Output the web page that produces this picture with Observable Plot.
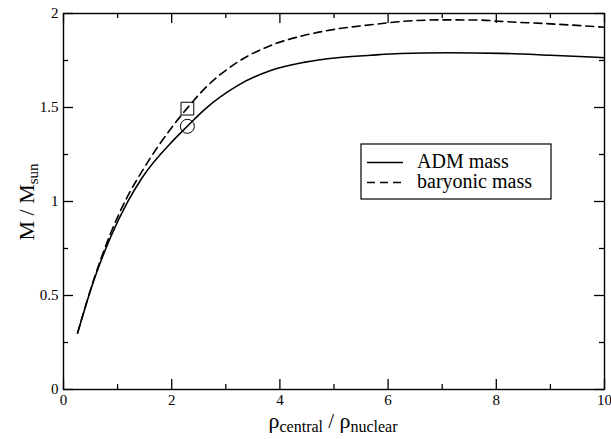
<!DOCTYPE html>
<html><head><meta charset="utf-8">
<script src="https://cdn.jsdelivr.net/npm/d3@7"></script>
<script src="https://cdn.jsdelivr.net/npm/@observablehq/plot@0.6"></script>
<style>body{margin:0;background:#fff} svg{display:block}</style>
</head><body><div id="chart"></div>
<script>
// ---- data ----
const densityADM = [0.26, 0.56, 0.87, 1.18, 1.45, 2.03, 2.29, 2.59, 3.21, 3.83, 4.44, 5.06, 5.68, 6.23, 7.1, 8.08, 9.0, 10.0];
const massADM    = [0.30, 0.58, 0.81, 0.995, 1.125, 1.325, 1.40, 1.485, 1.615, 1.697, 1.740, 1.765, 1.778, 1.787, 1.791, 1.788, 1.778, 1.765];
const densityBaryon = [0.26, 0.56, 0.87, 1.18, 1.45, 2.03, 2.28, 2.59, 3.21, 3.83, 4.44, 5.06, 5.68, 6.23, 7.0, 7.7, 8.08, 9.0, 10.0];
const massBaryon    = [0.30, 0.585, 0.83, 1.025, 1.16, 1.405, 1.494, 1.595, 1.74, 1.83, 1.883, 1.918, 1.94, 1.957, 1.966, 1.965, 1.958, 1.945, 1.927];
const markerDensity = [2.29];
const markerADM = [1.40];
const markerBaryon = [1.494];
const xTicksMajor = [0, 2, 4, 6, 8, 10];
const xTicksMinor = [1, 3, 5, 7, 9];
const yTicksMajor = [0, 0.5, 1, 1.5, 2];
const yTicksMinor = [0.25, 0.75, 1.25, 1.75];
const xDomain = [0, 10];
const yDomain = [0, 2];
const legendLabels = ["ADM mass", "baryonic mass"];

const adm = densityADM.map((x, i) => ({x, y: massADM[i]}));
const bar = densityBaryon.map((x, i) => ({x, y: massBaryon[i]}));
const mADM = markerDensity.map((x, i) => ({x, y: markerADM[i]}));
const mBar = markerDensity.map((x, i) => ({x, y: markerBaryon[i]}));

const font = "'Liberation Serif', 'Times New Roman', serif";
const K = "#000";
const tw = 1.3;
const W = 611, H = 439, mL = 63, mR = 7, mT = 13, mB = 50;
const innerW = W - mL - mR, innerH = H - mT - mB;
const major = 10, minor = 5;

const plot = Plot.plot({
  width: W, height: H,
  marginLeft: mL, marginRight: mR, marginTop: mT, marginBottom: mB,
  x: {domain: xDomain},
  y: {domain: yDomain},
  style: {fontFamily: font, fontSize: "15px", color: K, background: "#fff"},
  marks: [
    Plot.frame({stroke: K, strokeWidth: 1.4}),
    // inward ticks on all four sides
    Plot.ruleX(xTicksMajor, {x: d => d, insetTop: innerH - major, stroke: K, strokeWidth: tw}),
    Plot.ruleX(xTicksMinor, {x: d => d, insetTop: innerH - minor, stroke: K, strokeWidth: tw}),
    Plot.ruleX(xTicksMajor, {x: d => d, insetBottom: innerH - major, stroke: K, strokeWidth: tw}),
    Plot.ruleX(xTicksMinor, {x: d => d, insetBottom: innerH - minor, stroke: K, strokeWidth: tw}),
    Plot.ruleY(yTicksMajor, {y: d => d, insetRight: innerW - major, stroke: K, strokeWidth: tw}),
    Plot.ruleY(yTicksMinor, {y: d => d, insetRight: innerW - minor, stroke: K, strokeWidth: tw}),
    Plot.ruleY(yTicksMajor, {y: d => d, insetLeft: innerW - major, stroke: K, strokeWidth: tw}),
    Plot.ruleY(yTicksMinor, {y: d => d, insetLeft: innerW - minor, stroke: K, strokeWidth: tw}),
    Plot.axisX({ticks: xTicksMajor, tickSize: 0, tickPadding: 5, tickFormat: d => String(d), label: null, fontSize: 15}),
    Plot.axisY({ticks: yTicksMajor, tickSize: 0, tickPadding: 5, tickFormat: d => String(d), label: null, fontSize: 15}),
    Plot.line(adm, {x: "x", y: "y", curve: "monotone-x", stroke: K, strokeWidth: 1.6}),
    Plot.line(bar, {x: "x", y: "y", curve: "monotone-x", stroke: K, strokeWidth: 1.6, strokeDasharray: "8,5"}),
    Plot.dot(mADM, {x: "x", y: "y", r: 7, symbol: "circle", stroke: K, fill: "none", strokeWidth: 1}),
    Plot.dot(mBar, {x: "x", y: "y", r: 7.2, symbol: "square", stroke: K, fill: "none", strokeWidth: 1})
  ]
});
document.getElementById("chart").appendChild(plot);

const svg = d3.select(plot);
// y axis title
const yt = svg.append("text")
  .attr("transform", "translate(34,202) rotate(-90)")
  .attr("text-anchor", "middle").attr("font-family", font).attr("font-size", 22).attr("fill", K);
yt.append("tspan").text("M / M");
yt.append("tspan").attr("font-size", 15).attr("dy", 4).text("sun");

// x axis title
const xt = svg.append("text")
  .attr("x", 333).attr("y", 428)
  .attr("text-anchor", "middle").attr("font-family", font).attr("font-size", 21).attr("fill", K);
xt.append("tspan").attr("font-size", 22).text("ρ");
xt.append("tspan").attr("font-size", 16).attr("dy", 4).text("central");
xt.append("tspan").attr("dy", -4).text(" / ");
xt.append("tspan").attr("font-size", 22).text("ρ");
xt.append("tspan").attr("font-size", 16).attr("dy", 4).text("nuclear");

// legend
const lg = svg.append("g");
lg.append("rect").attr("x", 361).attr("y", 144).attr("width", 190).attr("height", 55)
  .attr("fill", "#fff").attr("stroke", K).attr("stroke-width", 1.2);
[["none", 162.5], ["8,5", 182.5]].forEach(([dash, y], i) => {
  lg.append("line").attr("x1", 367).attr("x2", 403).attr("y1", y).attr("y2", y)
    .attr("stroke", K).attr("stroke-width", 1.6).attr("stroke-dasharray", dash);
  lg.append("text").attr("x", 417).attr("y", y + 5.5).attr("text-anchor", "start")
    .attr("font-family", font).attr("font-size", 20).attr("fill", K).text(legendLabels[i]);
});
</script>
</body></html>
